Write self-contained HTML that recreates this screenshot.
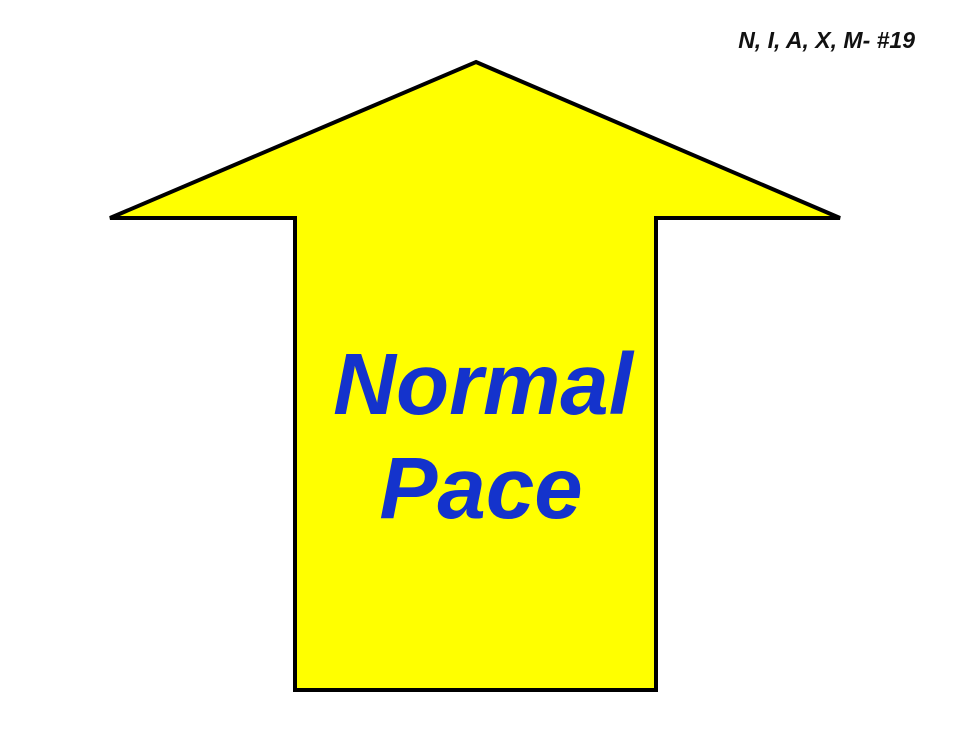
<!DOCTYPE html>
<html>
<head>
<meta charset="utf-8">
<style>
  html, body { margin: 0; padding: 0; background: #fff; }
  body { width: 960px; height: 738px; overflow: hidden; }
  svg { display: block; }
</style>
</head>
<body>
<svg width="960" height="738" viewBox="0 0 960 738" xmlns="http://www.w3.org/2000/svg">
  <text x="915" y="48" text-anchor="end" font-family="Liberation Sans, sans-serif" font-weight="bold" font-style="italic" font-size="23" fill="#111">N, I, A, X, M- #19</text>
  <polygon points="476,62 840,218 656,218 656,690 295,690 295,218 110,218" fill="#ffff00" stroke="#000" stroke-width="4" stroke-linejoin="miter"/>
  <text x="483" y="414" text-anchor="middle" font-family="Liberation Sans, sans-serif" font-weight="bold" font-style="italic" font-size="87" fill="#1433cc">Normal</text>
  <text x="481" y="518" text-anchor="middle" font-family="Liberation Sans, sans-serif" font-weight="bold" font-style="italic" font-size="87" fill="#1433cc">Pace</text>
</svg>
</body>
</html>
